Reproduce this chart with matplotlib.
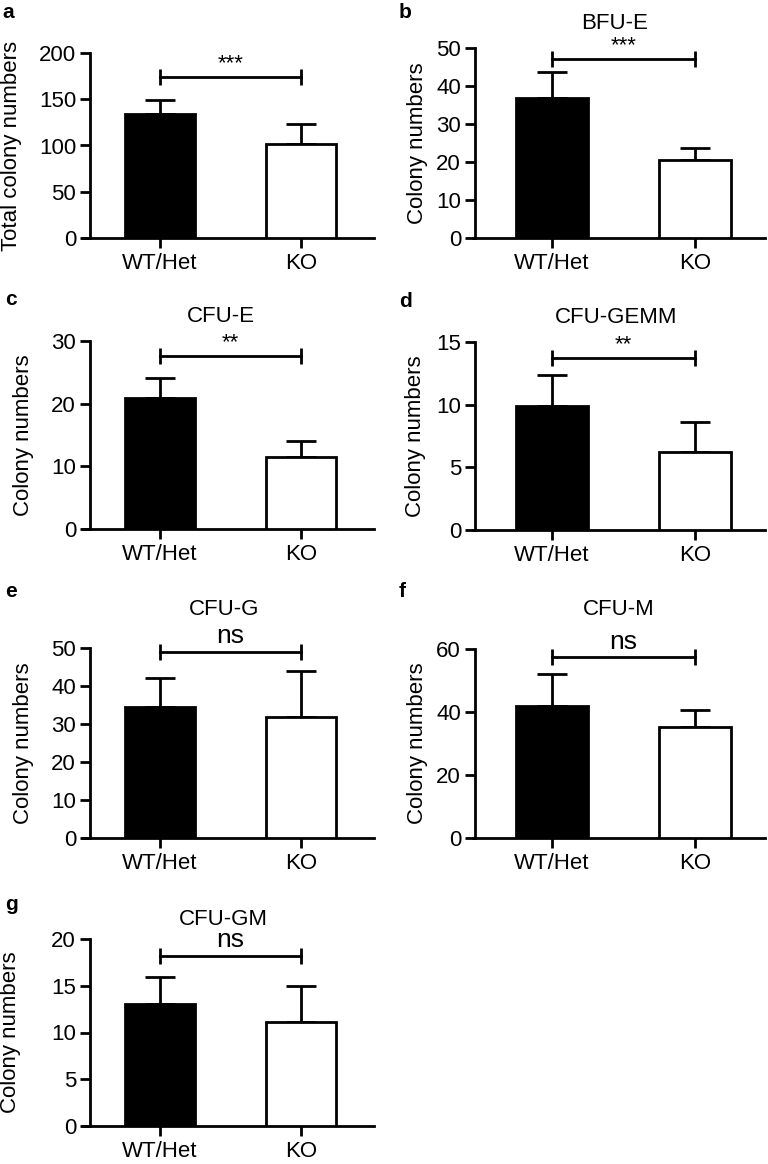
import matplotlib
matplotlib.use("Agg")
import matplotlib.pyplot as plt

plt.rcParams['font.family'] = ['Liberation Sans', 'DejaVu Sans']

W, H = 768, 1164

groups = ["WT/Het", "KO"]
letters = ["a", "b", "c", "d", "e", "f", "g"]
titles = ["", "BFU-E", "CFU-E", "CFU-GEMM", "CFU-G", "CFU-M", "CFU-GM"]
ylabels = ["Total colony numbers"] + ["Colony numbers"] * 6

wt_means = [134, 36.8, 20.9, 9.9, 34.5, 42.0, 13.0]
wt_err = [15, 6.9, 3.2, 2.5, 7.5, 10.0, 2.9]
ko_means = [101.5, 20.4, 11.5, 6.2, 31.8, 35.2, 11.1]
ko_err = [21.5, 3.2, 2.5, 2.4, 12.2, 5.4, 3.9]

y_max = [200, 50, 30, 15, 50, 60, 20]
y_step = [50, 10, 10, 5, 10, 20, 5]
sig_text = ["***", "***", "**", "**", "ns", "ns", "ns"]
sig_y = [174, 47, 27.6, 13.7, 49, 57.5, 18.2]

# pixel layout: column, top, bottom of y axis
cols = [0, 1, 0, 1, 0, 1, 0]
tops = [53, 48, 341, 342, 648, 649, 939]
bots = [238, 238, 529, 530, 838, 838, 1126]
# per column: axis x start, x end, y spine x, tick positions
col_x0 = [83, 473]
col_x1 = [374, 765]
col_spine = [90, 475]
col_ticks = [(160, 301), (552, 695)]
title_x = [0, 615, 221, 616, 224, 619, 223]
title_base = [0, 29, 322, 323, 615, 615, 925]
letter_x = [2, 399, 5, 399, 5, 399, 5]
letter_base = [18, 18, 305, 307, 597, 597, 910]
ylab_x = [12, 417, 24, 416, 24, 417, 11]

fig = plt.figure(figsize=(W / 100, H / 100), dpi=100)

for i in range(7):
    c = cols[i]
    x0, x1 = col_x0[c], col_x1[c]
    t0, t1 = col_ticks[c]
    sp = t1 - t0
    ax = fig.add_axes([x0 / W, 1 - bots[i] / H, (x1 - x0) / W, (bots[i] - tops[i]) / H])
    ax.set_xlim((x0 - t0) / sp, (x1 - t0) / sp)
    ax.set_ylim(0, y_max[i])

    ax.bar([0, 1], [wt_means[i], ko_means[i]], width=0.5,
           color=["black", "white"], edgecolor="black", linewidth=2, zorder=3)
    ax.errorbar([0], [wt_means[i]], yerr=[[0], [wt_err[i]]], fmt="none",
                ecolor="black", elinewidth=2, capsize=11, capthick=2, zorder=2)
    ax.errorbar([1], [ko_means[i]], yerr=[[0], [ko_err[i]]], fmt="none",
                ecolor="black", elinewidth=2, capsize=11, capthick=2, zorder=2)

    # significance bar
    ax.plot([0, 1], [sig_y[i], sig_y[i]], color="black", lw=2,
            marker="|", markersize=11, mew=2, clip_on=False)
    size = 16 if "*" in sig_text[i] else 19
    ax.annotate(sig_text[i], (0.5, sig_y[i]), xytext=(0, 6), textcoords="offset points",
                ha="center", va="baseline", fontsize=size, annotation_clip=False)

    for s in ["top", "right"]:
        ax.spines[s].set_visible(False)
    ax.spines["left"].set_position(("data", (col_spine[c] - t0) / sp))
    ax.spines["left"].set_linewidth(2)
    ax.spines["bottom"].set_linewidth(2)
    ax.set_yticks(range(0, y_max[i] + 1, y_step[i]))
    ax.set_xticks([0, 1])
    ax.set_xticklabels(groups)
    ax.tick_params(width=2, length=7, labelsize=16, direction="out")
    ax.tick_params(axis="x", pad=4)
    ax.tick_params(axis="y", pad=3)

    fig.text(ylab_x[i] / W, 1 - (tops[i] + bots[i]) / 2 / H, ylabels[i], rotation=90,
             ha="center", va="center", fontsize=16)
    if titles[i]:
        fig.text(title_x[i] / W, 1 - title_base[i] / H, titles[i],
                 ha="center", va="baseline", fontsize=16)
    fig.text(letter_x[i] / W, 1 - letter_base[i] / H, letters[i],
             ha="left", va="baseline", fontsize=15, fontweight="bold")

fig.savefig("out.png", dpi=100)
